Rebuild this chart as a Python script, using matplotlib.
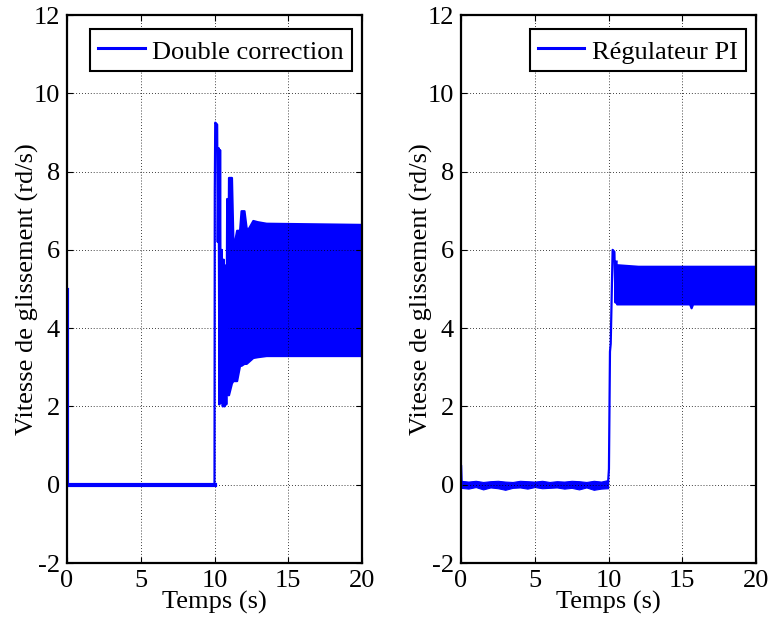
import matplotlib

matplotlib.use("Agg")
import matplotlib.pyplot as plt
from matplotlib.lines import Line2D

# ---- left panel: double correction ----
left_base_t = [0.0, 0.0, 0.02, 10.0]
left_base_v = [4.97, 0.0, 0.0, 0.0]

left_tr_t = [10.00, 10.02, 10.05, 10.18, 10.22, 10.28, 10.33, 10.38, 10.43, 10.50,
             10.56, 10.62, 10.68, 10.74, 10.80, 10.86, 10.92]
left_tr_v = [0.0, 7.5, 9.25, 9.2, 6.2, 8.6, 2.05, 8.55, 2.1, 6.0,
             2.0, 5.75, 2.0, 5.6, 2.05, 7.3, 2.3]

left_band_t = [10.9, 10.95, 11.15, 11.25, 11.35, 11.5, 11.7, 11.8, 12.0, 12.15,
               12.3, 12.6, 12.9, 13.5, 20.0]
left_band_hi = [5.0, 7.85, 7.85, 6.2, 6.2, 6.5, 6.5, 7.0, 7.0, 6.55,
                6.55, 6.75, 6.72, 6.68, 6.65]
left_band_lo = [2.3, 2.3, 2.6, 2.66, 2.66, 2.66, 3.05, 3.05, 3.1, 3.1,
                3.15, 3.25, 3.27, 3.3, 3.3]

# ---- right panel: PI regulator ----
right_spike_t = [0.0, 0.0, 0.04]
right_spike_v = [0.0, 0.5, 0.0]

right_noise_t = [0.0, 0.5, 1.0, 1.5, 2.0, 2.5, 3.0, 3.5, 4.0, 4.5, 5.0,
                 5.5, 6.0, 6.5, 7.0, 7.5, 8.0, 8.5, 9.0, 9.5, 9.97]
right_noise_hi = [0.10, 0.08, 0.10, 0.07, 0.09, 0.10, 0.08, 0.07, 0.10, 0.09, 0.08,
                  0.10, 0.07, 0.09, 0.08, 0.10, 0.09, 0.07, 0.10, 0.08, 0.12]
right_noise_lo = [-0.08, -0.10, -0.06, -0.12, -0.07, -0.09, -0.13, -0.08, -0.07, -0.10, -0.06,
                  -0.09, -0.08, -0.07, -0.10, -0.08, -0.12, -0.07, -0.13, -0.10, -0.09]

right_rise_t = [9.97, 10.03, 10.10, 10.15, 10.28, 10.40, 10.48, 10.55]
right_rise_v = [0.05, 0.4, 3.4, 3.6, 6.0, 5.95, 4.65, 5.7]

right_band_t = [10.55, 12.0, 15.5, 15.6, 15.7, 20.0]
right_band_hi = [5.62, 5.58, 5.58, 5.58, 5.58, 5.58]
right_band_lo = [4.62, 4.62, 4.62, 4.52, 4.62, 4.62]

labels = ["Double correction", "Régulateur PI"]
BLUE = "#0000ff"

plt.rcParams.update(
    {
        "font.family": ["Liberation Serif", "DejaVu Serif"],
        "font.size": 19,
        "axes.unicode_minus": False,
    }
)

fig = plt.figure(figsize=(7.71, 6.24), dpi=100)
ax_l = fig.add_axes([67 / 771, 1 - 563 / 624, 295 / 771, 548 / 624])
ax_r = fig.add_axes([461 / 771, 1 - 563 / 624, 295 / 771, 548 / 624])

lw = 1.6
ax_l.plot(left_base_t, left_base_v, color=BLUE, lw=3.0)
ax_l.plot(left_tr_t, left_tr_v, color=BLUE, lw=lw)
ax_l.fill_between(left_band_t, left_band_lo, left_band_hi, color=BLUE, lw=lw, edgecolor=BLUE)

ax_r.plot(right_spike_t, right_spike_v, color=BLUE, lw=lw)
ax_r.fill_between(right_noise_t, right_noise_lo, right_noise_hi, color=BLUE, lw=0.8, edgecolor=BLUE)
ax_r.plot(right_rise_t, right_rise_v, color=BLUE, lw=lw)
ax_r.fill_between(right_band_t, right_band_lo, right_band_hi, color=BLUE, lw=lw, edgecolor=BLUE)

for ax, lab in zip([ax_l, ax_r], labels):
    ax.set_xlim(0, 20)
    ax.set_ylim(-2, 12)
    ax.set_xticks([0, 5, 10, 15, 20])
    ax.set_yticks([-2, 0, 2, 4, 6, 8, 10, 12])
    ax.grid(True, color="k", linestyle=(0, (1, 2.5)), linewidth=0.6)
    ax.tick_params(direction="in", length=4, width=0.8, pad=5, top=True, right=True)
    for t in ax.get_xticklabels() + ax.get_yticklabels():
        t.set_fontfamily("Liberation Serif")
    for sp in ax.spines.values():
        sp.set_linewidth(1.6)
    ax.set_xlabel("Temps (s)", labelpad=-1)
    ax.set_ylabel("Vitesse de glissement (rd/s)", labelpad=-4)
    handle = Line2D([], [], color=BLUE, lw=2.2)
    leg = ax.legend(
        [handle],
        [lab],
        loc="upper right",
        bbox_to_anchor=(1 - 10 / 295, 1 - 14 / 548),
        fancybox=False,
        framealpha=1,
        edgecolor="k",
        handlelength=1.75,
        handleheight=1.1,
        handletextpad=0.3,
        borderpad=0.3,
        borderaxespad=0.0,
    )
    leg.get_frame().set_linewidth(1.5)

fig.savefig("out.png", dpi=100, facecolor="white")
